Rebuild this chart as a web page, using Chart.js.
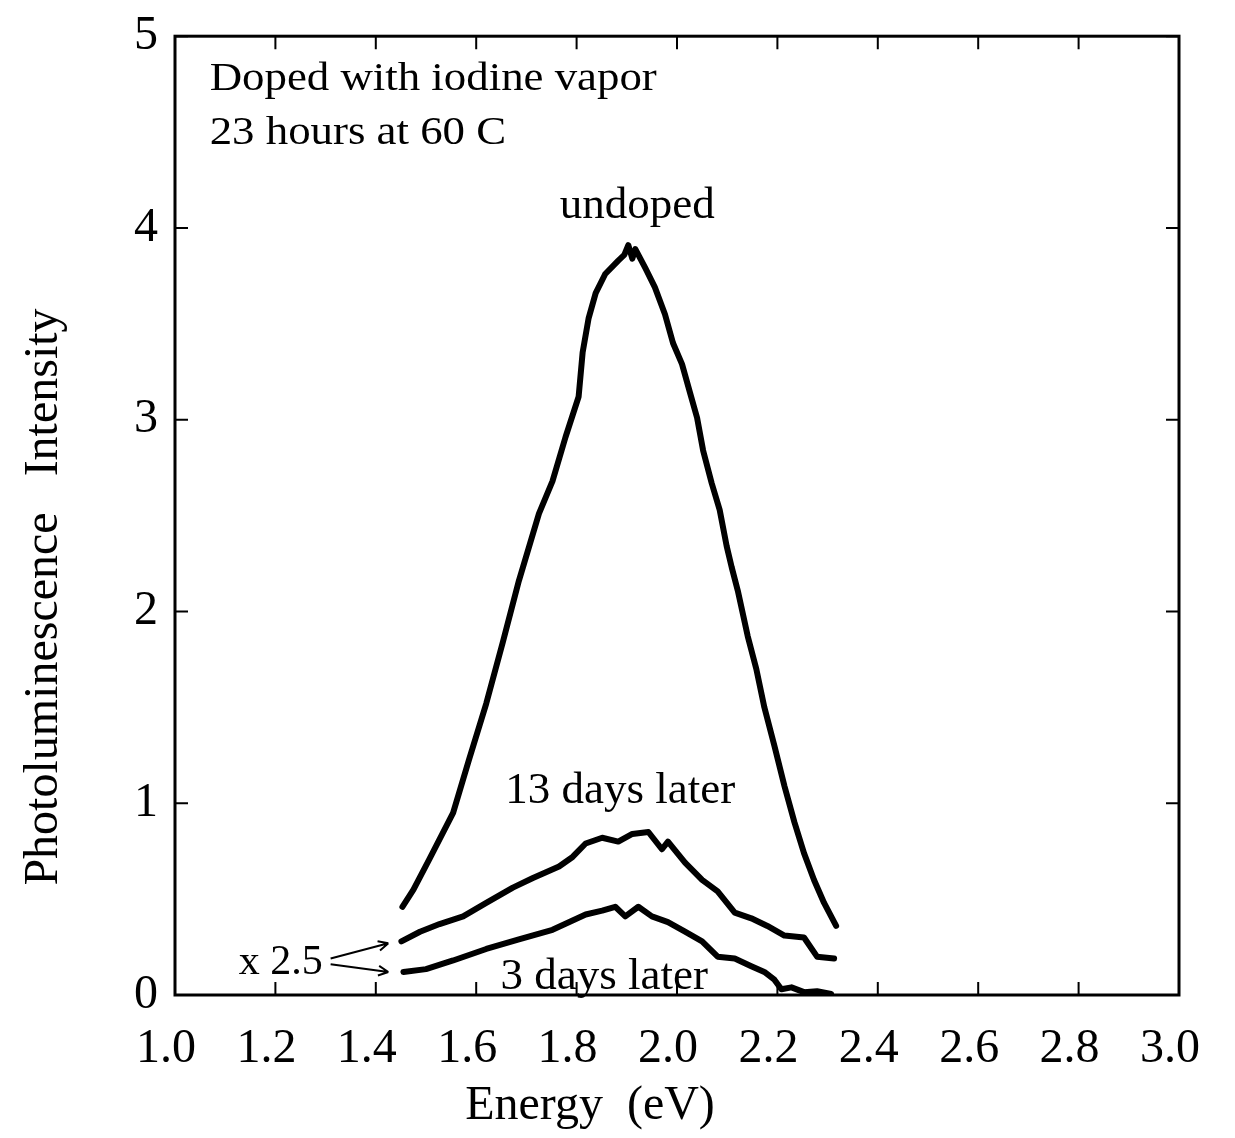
<!DOCTYPE html>
<html>
<head>
<meta charset="utf-8">
<script src="https://cdn.jsdelivr.net/npm/chart.js@4.4.1/dist/chart.umd.min.js"></script>
<style>
  html, body { margin: 0; padding: 0; background: #fff; }
  #wrap { width: 1235px; height: 1138px; position: relative; }
</style>
</head>
<body>
<div id="wrap"><canvas id="plChart"></canvas></div>
<script>
// Photoluminescence spectra
const energyUndoped = [1.453, 1.475, 1.507, 1.554, 1.586, 1.620, 1.653, 1.685, 1.725, 1.752, 1.778, 1.804, 1.812, 1.824, 1.838, 1.857, 1.883, 1.895, 1.903, 1.911, 1.917, 1.937, 1.956, 1.976, 1.992, 2.010, 2.026, 2.040, 2.052, 2.069, 2.085, 2.099, 2.109, 2.121, 2.141, 2.158, 2.174, 2.194, 2.214, 2.234, 2.253, 2.273, 2.293, 2.317];
const intensityUndoped = [0.46, 0.55, 0.71, 0.95, 1.23, 1.52, 1.84, 2.16, 2.51, 2.68, 2.91, 3.12, 3.35, 3.53, 3.66, 3.76, 3.83, 3.86, 3.91, 3.84, 3.89, 3.79, 3.69, 3.55, 3.40, 3.29, 3.14, 3.01, 2.84, 2.67, 2.53, 2.34, 2.23, 2.11, 1.87, 1.70, 1.50, 1.30, 1.09, 0.90, 0.74, 0.60, 0.48, 0.36];

const energy13Days = [1.451, 1.488, 1.527, 1.574, 1.620, 1.673, 1.713, 1.765, 1.792, 1.818, 1.851, 1.883, 1.911, 1.943, 1.970, 1.982, 2.016, 2.050, 2.081, 2.115, 2.148, 2.180, 2.214, 2.253, 2.279, 2.313];
const intensity13Days = [0.28, 0.33, 0.37, 0.41, 0.48, 0.56, 0.61, 0.67, 0.72, 0.79, 0.82, 0.80, 0.84, 0.85, 0.76, 0.80, 0.69, 0.60, 0.54, 0.43, 0.40, 0.36, 0.31, 0.30, 0.20, 0.19];

const energy3Days = [1.455, 1.500, 1.554, 1.620, 1.685, 1.752, 1.818, 1.851, 1.877, 1.897, 1.923, 1.950, 1.982, 2.016, 2.050, 2.081, 2.115, 2.148, 2.174, 2.194, 2.208, 2.228, 2.253, 2.279, 2.307];
const intensity3Days = [0.12, 0.135, 0.18, 0.24, 0.29, 0.34, 0.42, 0.44, 0.46, 0.41, 0.46, 0.41, 0.38, 0.33, 0.28, 0.20, 0.19, 0.15, 0.12, 0.08, 0.03, 0.04, 0.015, 0.02, 0.005];

const xTicks = [1.0, 1.2, 1.4, 1.6, 1.8, 2.0, 2.2, 2.4, 2.6, 2.8, 3.0];
const yTicks = [0, 1, 2, 3, 4, 5];

const SERIF = "'Liberation Serif', 'Times New Roman', serif";

function toPoints(xs, ys) {
    return xs.map((x, i) => ({ x: x, y: ys[i] }));
}

function curve(label, xs, ys) {
    return {
        label: label,
        data: toPoints(xs, ys),
        borderColor: '#000',
        borderWidth: 6,
        borderJoinStyle: 'round',
        borderCapStyle: 'round',
        pointRadius: 0,
        tension: 0,
        fill: false
    };
}

// Frame, inward ticks, axis titles and the text notes inside the plot
const decorations = {
    id: 'decorations',
    afterDraw(chart) {
        const c = chart.ctx;
        const xs = chart.scales.x, ys = chart.scales.y;
        const a = chart.chartArea;
        const px = v => xs.getPixelForValue(v);
        const py = v => ys.getPixelForValue(v);

        c.save();
        c.strokeStyle = '#000';
        c.lineWidth = 3;
        c.strokeRect(a.left, a.top, a.right - a.left, a.bottom - a.top);

        // ticks pointing into the plot on all four sides
        c.lineWidth = 2;
        const tl = 13;
        c.beginPath();
        xTicks.forEach(v => {
            const x = px(v);
            c.moveTo(x, a.bottom); c.lineTo(x, a.bottom - tl);
            c.moveTo(x, a.top); c.lineTo(x, a.top + tl);
        });
        yTicks.forEach(v => {
            const y = py(v);
            c.moveTo(a.left, y); c.lineTo(a.left + tl, y);
            c.moveTo(a.right, y); c.lineTo(a.right - tl, y);
        });
        c.stroke();

        c.fillStyle = '#000';
        c.textBaseline = 'alphabetic';

        // header note (the scan has it in a wider face)
        c.font = '39px ' + SERIF;
        c.textAlign = 'left';
        [['Doped with iodine vapor', 4.72], ['23 hours at 60 C', 4.44]].forEach(([t, v]) => {
            c.save();
            c.translate(px(1.069), py(v));
            c.scale(1.15, 1);
            c.fillText(t, 0, 0);
            c.restore();
        });

        // curve labels
        c.font = '45px ' + SERIF;
        c.textAlign = 'center';
        c.fillText('undoped', px(1.921), py(4.05));
        c.fillText('13 days later', px(1.887), py(1.0));
        c.fillText('3 days later', px(1.855), py(0.03));

        c.textAlign = 'left';
        c.font = '42px ' + SERIF;
        c.fillText('x 2.5', px(1.127), py(0.11));

        // arrows from "x 2.5" to the two scaled curves
        c.lineWidth = 2;
        const arrow = (x0, y0, x1, y1) => {
            c.beginPath();
            c.moveTo(x0, y0); c.lineTo(x1, y1);
            const ang = Math.atan2(y1 - y0, x1 - x0);
            const h = 11;
            c.moveTo(x1, y1); c.lineTo(x1 - h * Math.cos(ang - 0.45), y1 - h * Math.sin(ang - 0.45));
            c.moveTo(x1, y1); c.lineTo(x1 - h * Math.cos(ang + 0.45), y1 - h * Math.sin(ang + 0.45));
            c.stroke();
        };
        arrow(px(1.31), py(0.19), px(1.425), py(0.27));
        arrow(px(1.31), py(0.16), px(1.425), py(0.12));

        // axis titles
        c.font = '48px ' + SERIF;
        c.textAlign = 'center';
        c.textBaseline = 'middle';
        c.fillText('Energy  (eV)', 590, 1106);
        c.save();
        c.translate(44, 597);
        c.rotate(-Math.PI / 2);
        c.fillText('Photoluminescence   Intensity', 0, 0);
        c.restore();
        c.restore();
    }
};

const ctx = document.getElementById('plChart').getContext('2d');
const plChart = new Chart(ctx, {
    type: 'line',
    data: {
        datasets: [
            curve('undoped', energyUndoped, intensityUndoped),
            curve('13 days later', energy13Days, intensity13Days),
            curve('3 days later', energy3Days, intensity3Days)
        ]
    },
    options: {
        responsive: true,
        maintainAspectRatio: false,
        animation: false,
        layout: { padding: { left: 0, right: 47, top: 0, bottom: 0 } },
        scales: {
            x: {
                type: 'linear',
                min: 1.0,
                max: 3.0,
                afterFit: s => { s.height = 143; },
                afterBuildTicks: s => { s.ticks = xTicks.map(v => ({ value: v })); },
                grid: { display: false, drawTicks: false },
                border: { display: false },
                ticks: {
                    color: '#000',
                    padding: 26,
                    labelOffset: -9,
                    maxRotation: 0,
                    font: { family: SERIF, size: 48 },
                    callback: v => Number(v).toFixed(1)
                }
            },
            y: {
                type: 'linear',
                min: 0,
                max: 5,
                afterFit: s => { s.width = 175; },
                afterBuildTicks: s => { s.ticks = yTicks.map(v => ({ value: v })); },
                grid: { display: false, drawTicks: false },
                border: { display: false },
                ticks: {
                    color: '#000',
                    padding: 17,
                    font: { family: SERIF, size: 48, lineHeight: 0.8 },
                    callback: v => String(v)
                }
            }
        },
        plugins: {
            legend: { display: false },
            tooltip: { enabled: false }
        }
    },
    plugins: [decorations]
});
</script>
</body>
</html>
